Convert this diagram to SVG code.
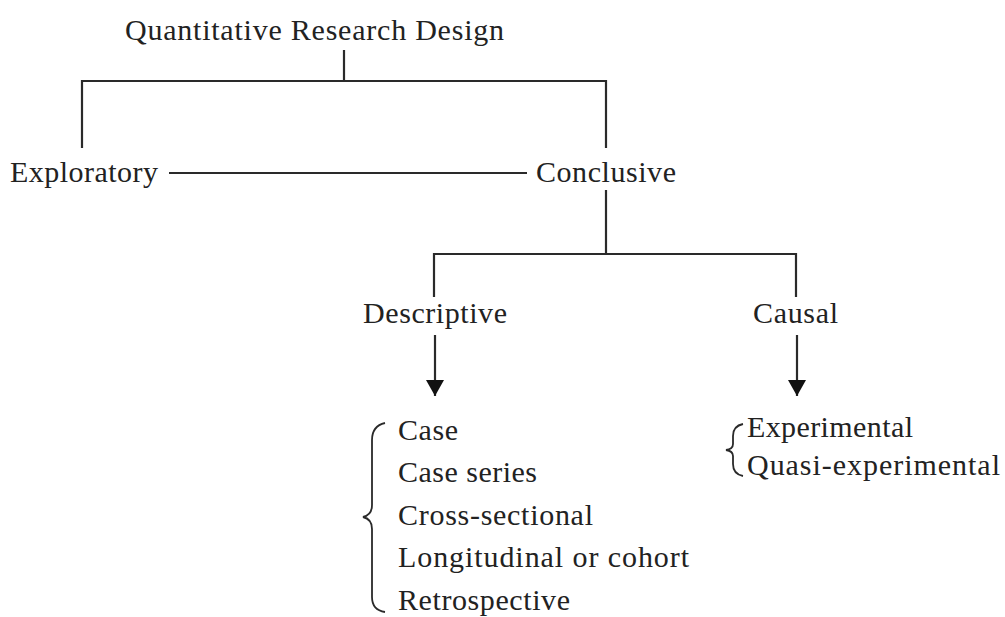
<svg xmlns="http://www.w3.org/2000/svg" width="1005" height="617" viewBox="0 0 1005 617">
<style>
text{font-family:"Liberation Serif","DejaVu Serif",serif;font-size:30px;fill:#222}
.ln{stroke:#2a2a2a;stroke-width:2.2;fill:none}
.br{stroke:#2a2a2a;stroke-width:1.8;fill:none}
</style>
<defs>
<marker id="ah" markerUnits="userSpaceOnUse" markerWidth="20" markerHeight="20" refX="16" refY="9" orient="auto">
<path d="M0,0 L16,9 L0,18 Z" fill="#111"/>
</marker>
</defs>
<rect width="1005" height="617" fill="#fff"/>
<g id="connectors">
<path class="ln" d="M344,50 V81 M82,148 V81 H606 V148"/>
<path class="ln" d="M169,173 H527"/>
<path class="ln" d="M606,190 V254 M434,297 V254 H796 V297"/>
<path class="ln" d="M435,335 V396" marker-end="url(#ah)"/>
<path class="ln" d="M797,335 V396" marker-end="url(#ah)"/>
</g>
<g id="title"><text x="125" y="40" textLength="379" lengthAdjust="spacing">Quantitative Research Design</text></g>
<g id="exploratory"><text x="10" y="182" textLength="148" lengthAdjust="spacing">Exploratory</text></g>
<g id="conclusive"><text x="536" y="182" textLength="140" lengthAdjust="spacing">Conclusive</text></g>
<g id="descriptive"><text x="363" y="323" textLength="144" lengthAdjust="spacing">Descriptive</text></g>
<g id="causal"><text x="753" y="323" textLength="85" lengthAdjust="spacing">Causal</text></g>
<g id="descriptive-types">
<path class="br" d="M385,423 Q372,426 372,440 L372,505 Q372,515 363,517 Q372,519 372,529 L372,597 Q372,610 385,612"/>
<text x="398" y="440" textLength="60" lengthAdjust="spacing">Case</text>
<text x="398" y="482" textLength="139" lengthAdjust="spacing">Case series</text>
<text x="398" y="525" textLength="195" lengthAdjust="spacing">Cross-sectional</text>
<text x="398" y="567" textLength="291" lengthAdjust="spacing">Longitudinal or cohort</text>
<text x="398" y="610" textLength="172" lengthAdjust="spacing">Retrospective</text>
</g>
<g id="causal-types">
<path class="br" d="M743,424 Q733,426 733,436 L733,444 Q733,449 726,450 Q733,451 733,456 L733,464 Q733,474 743,476"/>
<text x="747" y="437" textLength="166" lengthAdjust="spacing">Experimental</text>
<text x="747" y="475" textLength="253" lengthAdjust="spacing">Quasi-experimental</text>
</g>
</svg>
